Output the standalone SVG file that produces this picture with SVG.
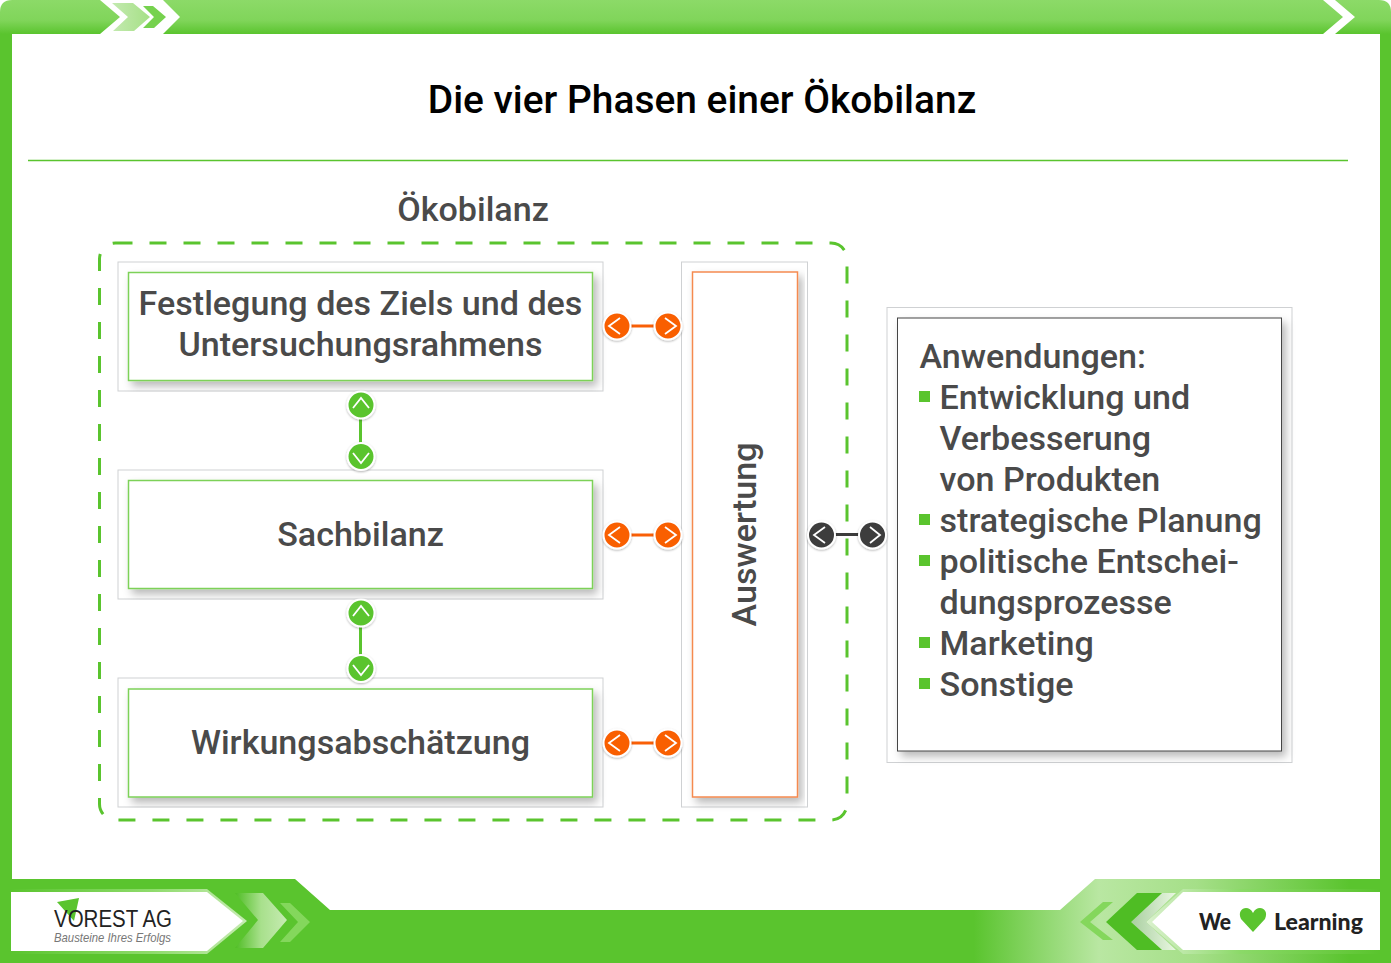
<svg xmlns="http://www.w3.org/2000/svg" width="1391" height="963" viewBox="0 0 1391 963">
<style>
text{font-family:Roboto,"Liberation Sans",sans-serif;font-weight:500;fill:#4a4a4a}
.t{font-size:34.100px}
.m{text-anchor:middle}
.outer{fill:#fff;stroke:#cfd1d3;stroke-width:1}
.inner{fill:#fff;filter:url(#sh);stroke-width:1.500}
.o{fill:#f95f06}.g{fill:#5ac42e}.k{fill:#3c3c3c}
.c{stroke:#fff;stroke-width:2;filter:url(#cs)}
.ch{fill:none;stroke:#fff;stroke-width:1.800}
.lo{stroke:#f95f06;stroke-width:3}.lg{stroke:#5ac42e;stroke-width:3}.lk{stroke:#3c3c3c;stroke-width:3}
</style>
<defs>
<linearGradient id="top" x1="0" y1="0" x2="0" y2="1"><stop offset="0" stop-color="#8cda68"/><stop offset=".6" stop-color="#80d55a"/><stop offset="1" stop-color="#5ac42e"/></linearGradient>
<linearGradient id="bot" gradientUnits="userSpaceOnUse" x1="0" y1="0" x2="1391" y2="0"><stop offset="0" stop-color="#5ac42e"/><stop offset=".7" stop-color="#5ac42e"/><stop offset=".79" stop-color="#b9e7a2"/><stop offset=".86" stop-color="#a5df88"/><stop offset=".97" stop-color="#5ac42e"/><stop offset="1" stop-color="#5ac42e"/></linearGradient>
<linearGradient id="chl" x1="0" y1="0" x2="1" y2="0"><stop offset="0" stop-color="#4fbd24"/><stop offset=".5" stop-color="#a8e08c"/><stop offset="1" stop-color="#c6ebb2"/></linearGradient>
<linearGradient id="pl" gradientUnits="userSpaceOnUse" x1="11" y1="0" x2="247" y2="0"><stop offset="0" stop-color="#5ac42e"/><stop offset=".6" stop-color="#8fdb6c"/><stop offset="1" stop-color="#c6ebb2"/></linearGradient>
<linearGradient id="pr" gradientUnits="userSpaceOnUse" x1="1148" y1="0" x2="1380" y2="0"><stop offset="0" stop-color="#d9f1cc"/><stop offset=".4" stop-color="#8bd968"/><stop offset="1" stop-color="#5ac42e"/></linearGradient>
<linearGradient id="tl" x1="0" y1="0" x2="1" y2="0"><stop offset="0" stop-color="#c3eab0"/><stop offset="1" stop-color="#a6e086"/></linearGradient>
<linearGradient id="gap" x1="0" y1="0" x2="1" y2="0"><stop offset="0" stop-color="#a9cfa0"/><stop offset="1" stop-color="#e9f7e1"/></linearGradient>
<filter id="sh" x="-5%" y="-5%" width="112%" height="115%"><feDropShadow dx="4" dy="5" stdDeviation="4" flood-color="#000" flood-opacity=".28"/></filter>
<filter id="cs" x="-30%" y="-30%" width="160%" height="160%"><feDropShadow dx="0" dy="1" stdDeviation="1" flood-color="#000" flood-opacity=".3"/></filter>
</defs>

<g id="frame">
<path d="M0 34V12Q0 0 12 0H1379Q1391 0 1391 12V34Z" fill="url(#top)"/>
<rect x="0" y="34" width="12" height="845" fill="#5ac42e"/>
<rect x="1380" y="34" width="11" height="845" fill="#5ac42e"/>
<path d="M100 0H163L180 17 163 34H100L120 17Z" fill="#fff"/>
<path d="M112 3H133L150 17 134 31H113L128 17Z" fill="url(#tl)"/>
<path d="M143 6H153L166 17 154 28H143L154 17Z" fill="#76d24e"/>
<path d="M1323 0H1335L1355 17 1335 34H1323L1343 17Z" fill="#fff"/>
<path d="M0 879H295L330 910H1060L1095 879H1391V963H0Z" fill="url(#bot)"/>
<rect x="1380" y="879" width="11" height="84" fill="#5ac42e"/>
</g>

<g id="logo-left">
<path d="M11 889H207L247 921 207 954H11Z" fill="url(#pl)"/>
<path d="M11 892H207L243 921 207 951H11Z" fill="#fff"/>
<path d="M235 893H263L287 920 263 948H235L258 920Z" fill="url(#chl)"/>
<path d="M280 903H290L310 922 290 942H280L298 922Z" fill="#84d75c"/>
<path d="M57 902 79 898 74 921Z" fill="#5ac42e"/>
<text x="54" y="927" style="font-family:'Liberation Sans',sans-serif;font-weight:400;font-size:23px;fill:#222" textLength="118" lengthAdjust="spacingAndGlyphs">VOREST AG</text>
<text x="54" y="942" style="font-family:'Liberation Sans',sans-serif;font-weight:400;font-style:italic;font-size:13px;fill:#777" textLength="117" lengthAdjust="spacingAndGlyphs">Bausteine Ihres Erfolgs</text>
</g>

<g id="logo-right">
<path d="M1183 889H1380V954H1183L1146 922Z" fill="url(#pr)"/>
<path d="M1183 892H1380V950H1183L1152 922Z" fill="#fff"/>
<path d="M1162 893H1176L1146 922 1176 950H1162L1131 922Z" fill="url(#gap)"/>
<path d="M1137 893H1162L1131 922 1162 950H1137L1106 922Z" fill="#4fbd24"/>
<path d="M1103 902H1113L1090 922 1113 940H1103L1080 922Z" fill="#84d75c"/>
<text x="1199" y="930" style="font-family:Lato,sans-serif;font-weight:900;font-size:23px;fill:#222" textLength="32" lengthAdjust="spacingAndGlyphs">We</text>
<path d="M1253 932 1241 919C1236 908 1249 904 1253 913 1257 904 1270 908 1265 919Z" fill="#5ac42e"/>
<text x="1274" y="930" style="font-family:Lato,sans-serif;font-weight:900;font-size:23px;fill:#222" textLength="89" lengthAdjust="spacingAndGlyphs">Learning</text>
</g>

<text class="m" x="702" y="113" style="font-size:38.900px;fill:#000">Die vier Phasen einer Ökobilanz</text>
<line x1="28" y1="160.500" x2="1348" y2="160.500" stroke="#5ac42e" stroke-width="1.500"/>
<text class="t m" x="473" y="221">Ökobilanz</text>
<rect id="oekobilanz-frame" x="99.500" y="243" width="747.500" height="577" rx="16" fill="none" stroke="#5ac42e" stroke-width="3" stroke-dasharray="17 17"/>

<g id="node-ziel">
<rect class="outer" x="118" y="262" width="485" height="129"/>
<rect class="inner" x="128.500" y="272.500" width="464" height="108" stroke="#7dd158"/>
<text class="t m" x="360.500" y="315">Festlegung des Ziels und des</text>
<text class="t m" x="360.500" y="356">Untersuchungsrahmens</text>
</g>
<g id="node-sachbilanz">
<rect class="outer" x="118" y="470" width="485" height="129"/>
<rect class="inner" x="128.500" y="480.500" width="464" height="108" stroke="#7dd158"/>
<text class="t m" x="360.500" y="546">Sachbilanz</text>
</g>
<g id="node-wirkung">
<rect class="outer" x="118" y="678" width="485" height="129"/>
<rect class="inner" x="128.500" y="689" width="464" height="108" stroke="#7dd158"/>
<text class="t m" x="360.500" y="754">Wirkungsabschätzung</text>
</g>
<g id="node-auswertung">
<rect class="outer" x="681.500" y="262" width="126" height="545"/>
<rect class="inner" x="692.500" y="272" width="105" height="525" stroke="#f58a50"/>
<text class="t m" transform="translate(756 534.500) rotate(-90)">Auswertung</text>
</g>
<g id="node-anwendungen">
<rect class="outer" x="887" y="307.500" width="405" height="455"/>
<rect class="inner" x="897.500" y="318" width="384" height="433" stroke="#444" style="stroke-width:1"/>
<text class="t" x="919.500" y="368">Anwendungen:</text>
<g fill="#5ac42e">
<rect x="919" y="391" width="11" height="11"/><rect x="919" y="514" width="11" height="11"/><rect x="919" y="555" width="11" height="11"/><rect x="919" y="637" width="11" height="11"/><rect x="919" y="678" width="11" height="11"/>
</g>
<text class="t" x="939.500" y="409">Entwicklung und</text>
<text class="t" x="939.500" y="450">Verbesserung</text>
<text class="t" x="939.500" y="491">von Produkten</text>
<text class="t" x="939.500" y="532">strategische Planung</text>
<text class="t" x="939.500" y="573">politische Entschei-</text>
<text class="t" x="939.500" y="614">dungsprozesse</text>
<text class="t" x="939.500" y="655">Marketing</text>
<text class="t" x="939.500" y="696">Sonstige</text>
</g>

<g id="connectors">
<g id="conn-o1"><line class="lo" x1="630" y1="326" x2="655" y2="326"/><circle class="c o" cx="617" cy="326" r="13.500"/><circle class="c o" cx="668" cy="326" r="13.500"/><path class="ch" d="M620 318 609 326 620 334M665 318 676 326 665 334"/></g>
<g id="conn-o2"><line class="lo" x1="630" y1="535" x2="655" y2="535"/><circle class="c o" cx="617" cy="535" r="13.500"/><circle class="c o" cx="668" cy="535" r="13.500"/><path class="ch" d="M620 527 609 535 620 543M665 527 676 535 665 543"/></g>
<g id="conn-o3"><line class="lo" x1="630" y1="743" x2="655" y2="743"/><circle class="c o" cx="617" cy="743" r="13.500"/><circle class="c o" cx="668" cy="743" r="13.500"/><path class="ch" d="M620 735 609 743 620 751M665 735 676 743 665 751"/></g>
<g id="conn-g1"><line class="lg" x1="360.500" y1="418" x2="360.500" y2="443"/><circle class="c g" cx="361" cy="405" r="13.500"/><circle class="c g" cx="361" cy="456.500" r="13.500"/><path class="ch" d="M353 408 361 398 369 408M353 453 361 463 369 453"/></g>
<g id="conn-g2"><line class="lg" x1="360.500" y1="626" x2="360.500" y2="655"/><circle class="c g" cx="361" cy="613" r="13.500"/><circle class="c g" cx="361" cy="668.500" r="13.500"/><path class="ch" d="M353 616 361 606 369 616M353 665 361 675 369 665"/></g>
<g id="conn-k"><line class="lk" x1="834" y1="534.500" x2="859" y2="534.500"/><circle class="c k" cx="821.500" cy="535" r="13.500"/><circle class="c k" cx="872.500" cy="535" r="13.500"/><path class="ch" d="M825 527 814 535 825 543M870 527 880 535 870 543"/></g>
</g>
</svg>
